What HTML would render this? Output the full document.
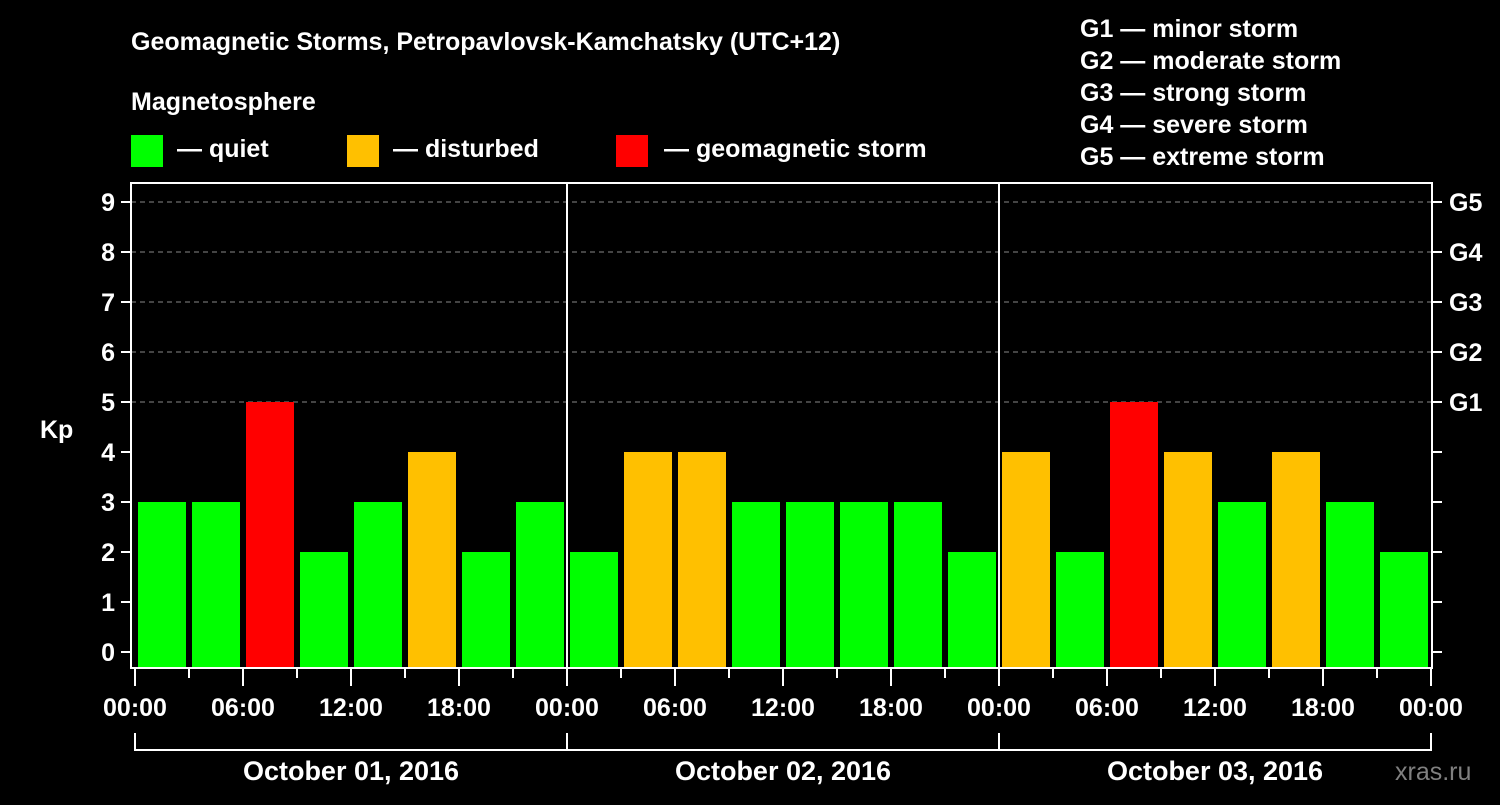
<!DOCTYPE html>
<html><head><meta charset="utf-8"><style>
body{margin:0;background:#000;}
svg text{font-family:"Liberation Sans",Arial,sans-serif;font-weight:bold;fill:#fff;}
</style></head><body>
<svg width="1500" height="800" viewBox="0 0 1500 800">
<g id="header">
<text x="131" y="50" font-size="25">Geomagnetic Storms, Petropavlovsk-Kamchatsky (UTC+12)</text>
<text x="131" y="110" font-size="25">Magnetosphere</text>
<rect x="131" y="135" width="32" height="32" fill="#00ff00"/>
<text x="177" y="157" font-size="25">— quiet</text>
<rect x="347" y="135" width="32" height="32" fill="#ffc000"/>
<text x="393" y="157" font-size="25">— disturbed</text>
<rect x="616" y="135" width="32" height="32" fill="#ff0000"/>
<text x="664" y="157" font-size="25">— geomagnetic storm</text>
<text x="1080" y="37" font-size="25">G1 — minor storm</text>
<text x="1080" y="69" font-size="25">G2 — moderate storm</text>
<text x="1080" y="101" font-size="25">G3 — strong storm</text>
<text x="1080" y="133" font-size="25">G4 — severe storm</text>
<text x="1080" y="165" font-size="25">G5 — extreme storm</text>
<text x="40" y="438" font-size="25">Kp</text>
<text x="1395" y="780" font-size="25" fill="#808080" style="fill:#808080;font-weight:normal">xras.ru</text>
</g>
<g id="plot"></g>
</svg>
<script>
const days = ["October 01, 2016","October 02, 2016","October 03, 2016"];
const kpValues = [3,3,5,2,3,4,2,3, 2,4,4,3,3,3,3,2, 4,2,5,4,3,4,3,2];
const yTicks = [0,1,2,3,4,5,6,7,8,9];
const gLabels = ["G1","G2","G3","G4","G5"];
const hourLabels = ["00:00","06:00","12:00","18:00"];

const NS="http://www.w3.org/2000/svg";
const g=document.getElementById('plot');
const X0=135, DAYW=432, BARW=DAYW/8;
const Y0=652, UNIT=50;
const x=h=>X0+h*DAYW/24;
const y=v=>Y0-v*UNIT;
function mk(tag,attrs,text){const e=document.createElementNS(NS,tag);for(const k in attrs)e.setAttribute(k,attrs[k]);if(text!==undefined)e.textContent=text;g.appendChild(e);return e;}
function color(v){return v>=5?"#ff0000":(v>=4?"#ffc000":"#00ff00");}
// grid
for(let v=5;v<=9;v++){const l=mk('line',{x1:131,x2:1432,y1:y(v),y2:y(v),stroke:'#888','stroke-dasharray':'5,4','stroke-width':1});

}
// bars
kpValues.forEach((v,i)=>{const b=mk('rect',{x:x(i*3)+3,y:y(v),width:BARW-6,height:667-y(v),fill:color(v)});

});
// day separators
for(let d=1;d<days.length;d++){const l=mk('line',{x1:x(d*24),x2:x(d*24),y1:183,y2:668,stroke:'#fff','stroke-width':2});

}
// frame
const fr=mk('rect',{x:131,y:183,width:1301,height:485,fill:'none',stroke:'#fff','stroke-width':2});


// y ticks
yTicks.forEach(v=>{const t=mk('line',{x1:121,x2:131,y1:y(v),y2:y(v),stroke:'#fff','stroke-width':2});


const tl=mk('text',{x:115,y:y(v)+9,'font-size':25,'text-anchor':'end'},String(v));


const rt=mk('line',{x1:1432,x2:1442,y1:y(v),y2:y(v),stroke:'#fff','stroke-width':2});

});
gLabels.forEach((s,i)=>{const t=mk('text',{x:1449,y:y(5+i)+9,'font-size':25},s);

});
// x ticks
for(let h=0;h<=days.length*24;h+=3){const major=h%6===0;
const t=mk('line',{x1:x(h),x2:x(h),y1:669,y2:major?686:678,stroke:'#fff','stroke-width':2});


if(major){const tl=mk('text',{x:x(h),y:716,'font-size':25,'text-anchor':'middle'},hourLabels[(h/6)%4]);

}}
// day brackets
const br=mk('polyline',{points:`${x(0)},733 ${x(0)},750 ${x(72)},750 ${x(72)},733`,fill:'none',stroke:'#fff','stroke-width':2});


days.forEach((d,i)=>{const s=mk('line',{x1:x(i*24),x2:x(i*24),y1:733,y2:750,stroke:'#fff','stroke-width':2});


const t=mk('text',{x:x(i*24+12),y:780,'font-size':27,'text-anchor':'middle'},d);

});
</script>
</body></html>
